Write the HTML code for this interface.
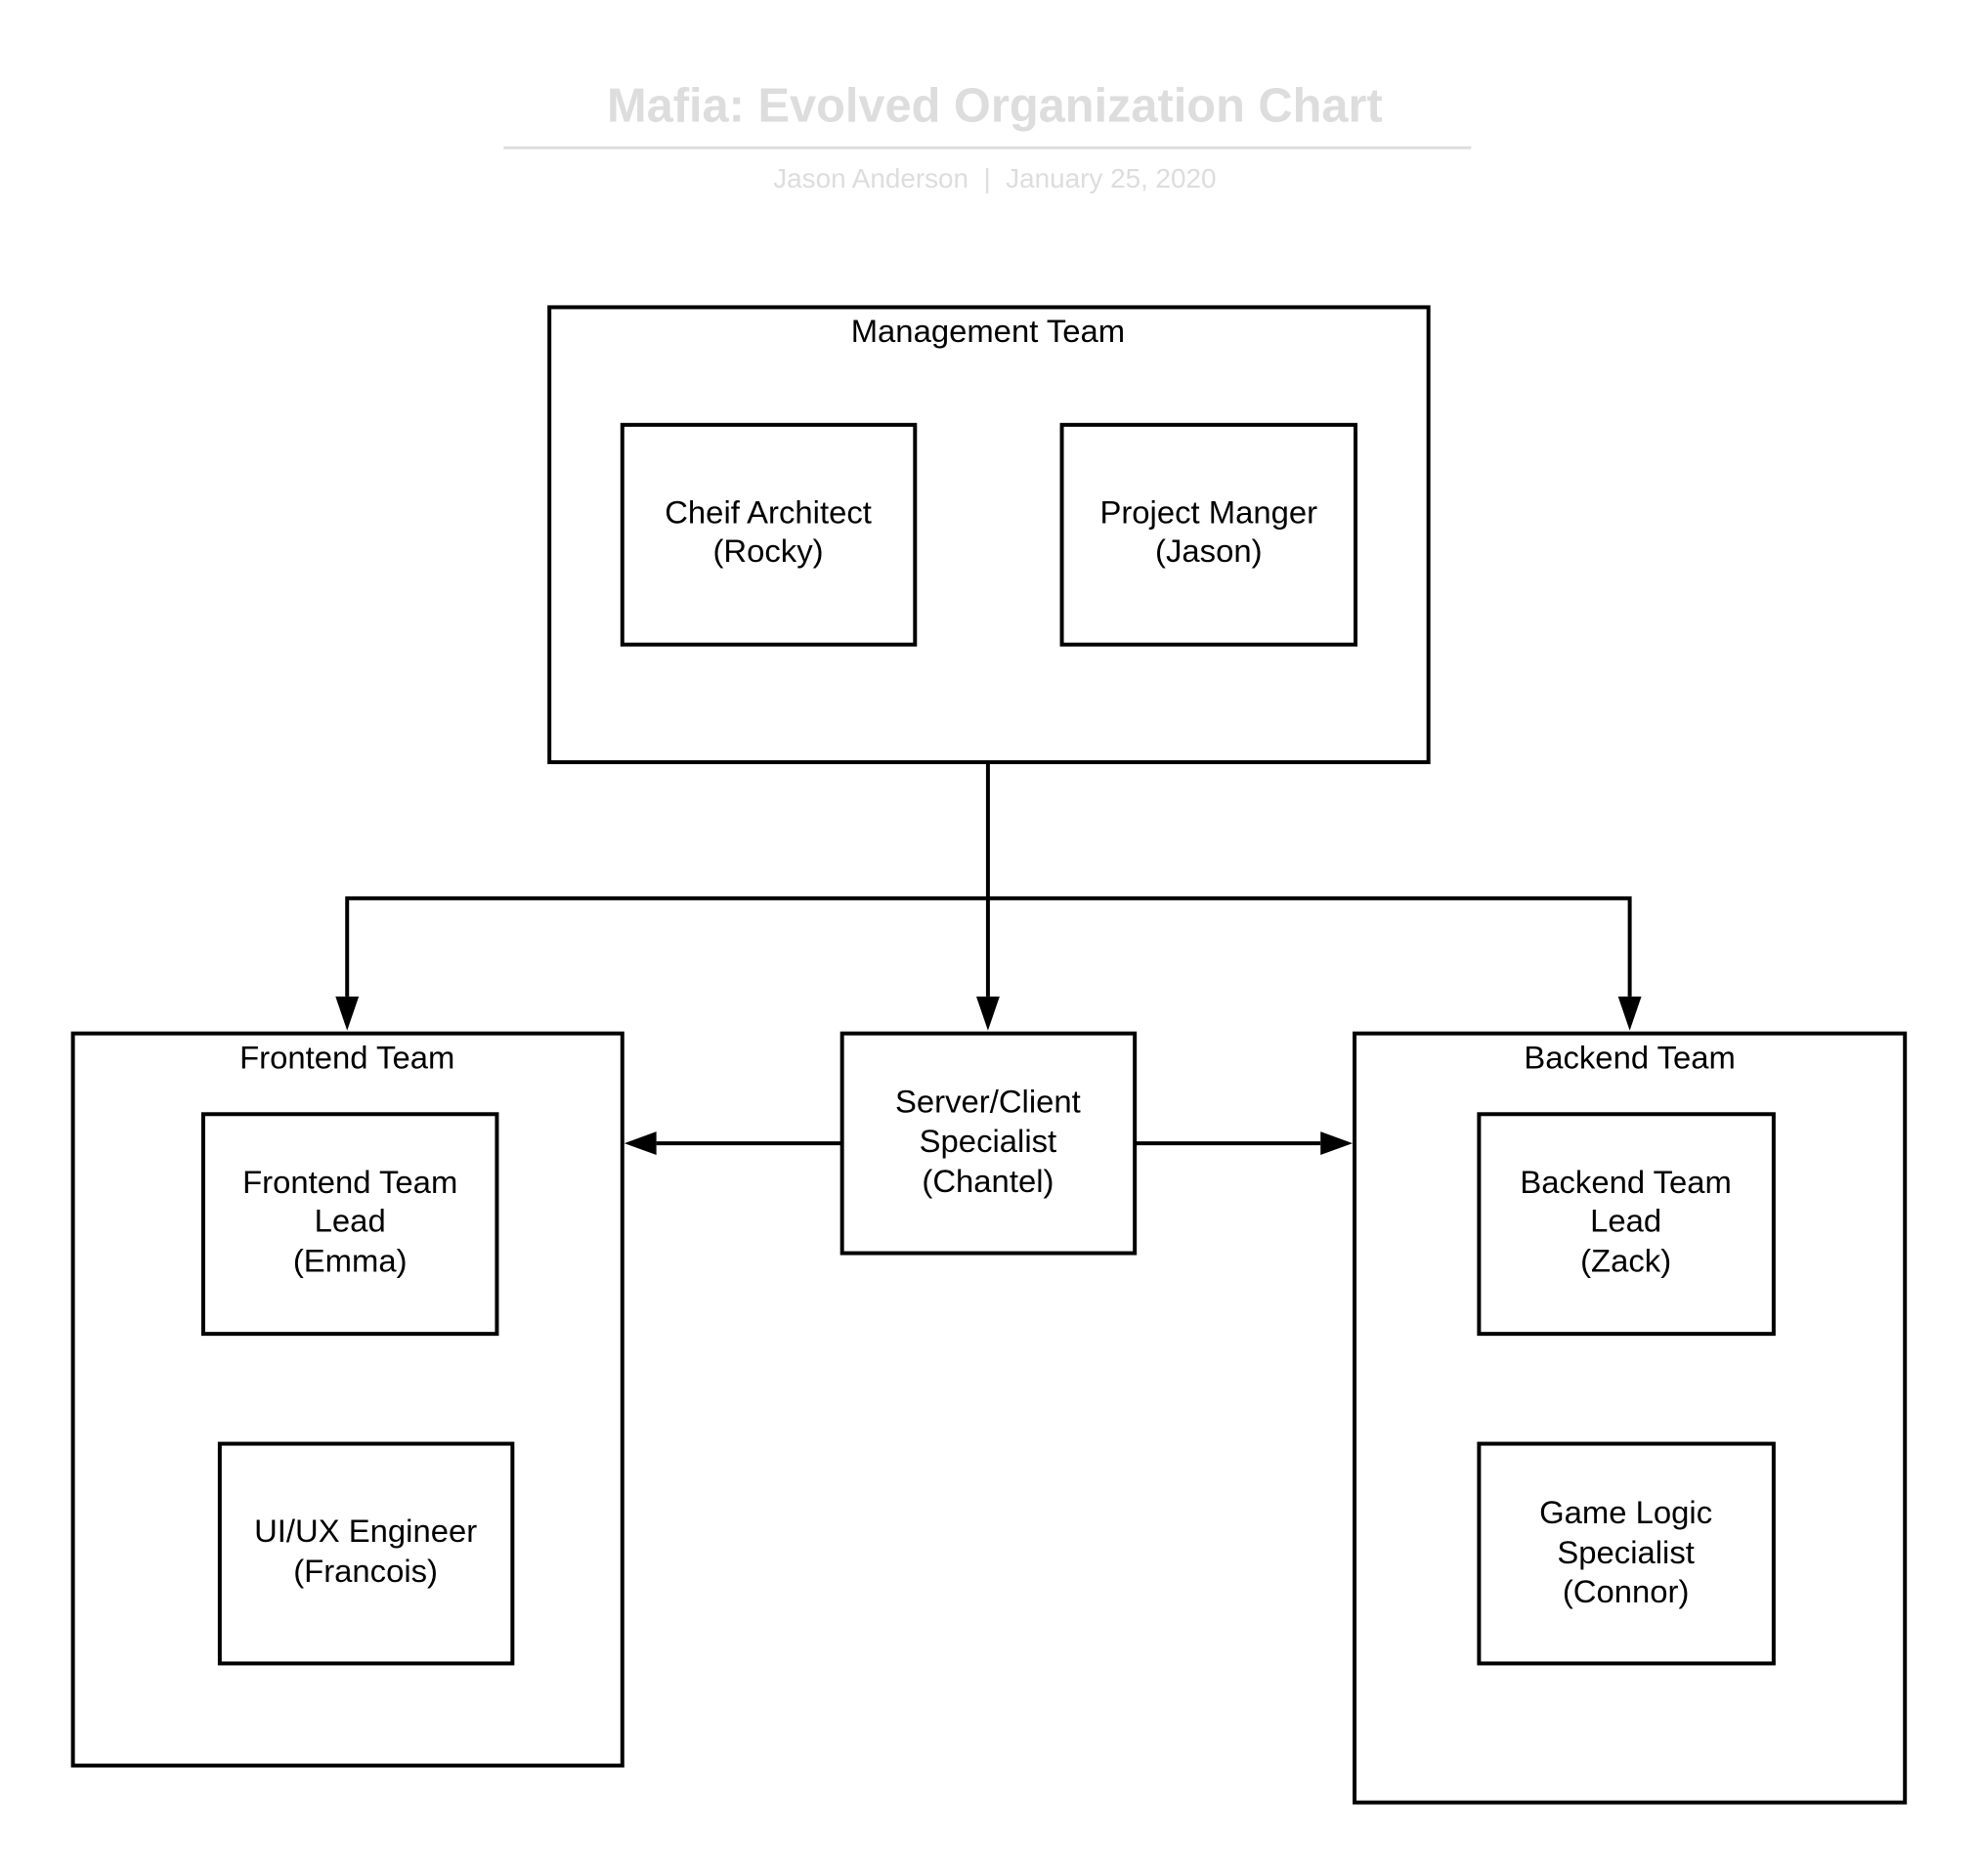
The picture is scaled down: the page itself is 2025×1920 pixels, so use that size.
<!DOCTYPE html>
<html><head><meta charset="utf-8"><style>
html,body{margin:0;padding:0;background:#fff;}
svg{display:block;}
text{font-family:"Liberation Sans",Arial,sans-serif;}
</style></head><body>
<svg width="2025" height="1920" viewBox="0 0 2025 1920" xmlns="http://www.w3.org/2000/svg">
<rect width="2025" height="1920" fill="#fff"/>
<g transform="scale(0.995)">
<text x="1023" y="125" font-size="49" font-weight="bold" fill="#dddddd" text-anchor="middle">Mafia: Evolved Organization Chart</text>
<line x1="518" y1="152" x2="1513" y2="152" stroke="#dddddd" stroke-width="3"/>
<text x="1023" y="193" font-size="28" fill="#dddddd" text-anchor="middle" xml:space="preserve">Jason Anderson  |  January 25, 2020</text>

<g fill="none" stroke="#000" stroke-width="4">
<rect x="565" y="316" width="904" height="468"/>
<rect x="640" y="437" width="301" height="226"/>
<rect x="1092" y="437" width="302" height="226"/>
<rect x="75" y="1063" width="565" height="753"/>
<rect x="866" y="1063" width="301" height="226"/>
<rect x="1393" y="1063" width="566" height="791"/>
<rect x="209" y="1146" width="302" height="226"/>
<rect x="226" y="1485" width="301" height="226"/>
<rect x="1521" y="1146" width="303" height="226"/>
<rect x="1521" y="1485" width="303" height="226"/>
<polyline points="1016,784 1016,1025"/>
<polyline points="357,1025 357,924 1676,924 1676,1025"/>
<line x1="866" y1="1176" x2="675" y2="1176"/>
<line x1="1167" y1="1176" x2="1358" y2="1176"/>
</g>
<g fill="#000">
<polygon points="345,1025 369,1025 357,1060"/>
<polygon points="1004,1025 1028,1025 1016,1060"/>
<polygon points="1664,1025 1688,1025 1676,1060"/>
<polygon points="642,1176 675,1164 675,1188"/>
<polygon points="1391,1176 1358,1164 1358,1188"/>
</g>

<g font-size="33" fill="#000" text-anchor="middle">
<text x="1016" y="352">Management Team</text>
<text x="790" y="538">Cheif Architect</text>
<text x="790" y="578">(Rocky)</text>
<text x="1243" y="538">Project Manger</text>
<text x="1243" y="578">(Jason)</text>
<text x="357" y="1099">Frontend Team</text>
<text x="1676" y="1099">Backend Team</text>
<text x="1016" y="1144">Server/Client</text>
<text x="1016" y="1185">Specialist</text>
<text x="1016" y="1226">(Chantel)</text>
<text x="360" y="1227">Frontend Team</text>
<text x="360" y="1267">Lead</text>
<text x="360" y="1308">(Emma)</text>
<text x="376" y="1586">UI/UX Engineer</text>
<text x="376" y="1627">(Francois)</text>
<text x="1672" y="1227">Backend Team</text>
<text x="1672" y="1267">Lead</text>
<text x="1672" y="1308">(Zack)</text>
<text x="1672" y="1567">Game Logic</text>
<text x="1672" y="1608">Specialist</text>
<text x="1672" y="1648">(Connor)</text>
</g>
</g>
</svg>
</body></html>
